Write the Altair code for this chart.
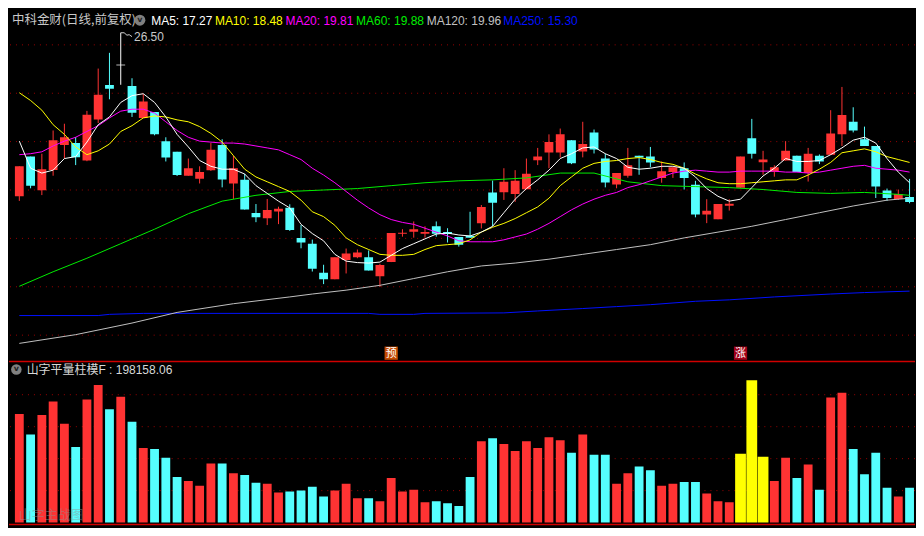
import altair as alt
import pandas as pd
import numpy as np

# ---------------- data ----------------
opens = [19.74, 21.38, 19.99, 20.83, 21.86, 21.94, 21.22, 22.91, 24.34, 25.17,
         24.30, 22.98, 23.22, 22.02, 21.58, 20.59, 20.47, 20.82, 21.86, 20.27,
         20.42, 19.05, 18.83, 19.11, 19.27, 18.02, 17.78, 16.58, 16.31, 17.11,
         17.22, 17.22, 16.43, 17.02, 18.19, 18.27, 18.19, 18.50, 18.26, 18.06,
         18.11, 18.63, 19.90, 19.91, 19.83, 20.03, 21.23, 21.55, 21.55, 22.06,
         21.59, 22.38, 21.30, 20.23, 20.59, 21.42, 21.38, 20.50, 20.74, 20.90,
         20.22, 18.99, 18.79, 19.35, 20.09, 22.14, 21.15, 20.75, 21.22, 21.42,
         20.70, 21.42, 21.46, 22.30, 22.82, 22.10, 21.82, 19.98, 19.63, 19.71]
closes = [20.98, 20.18, 20.86, 22.06, 22.18, 21.35, 23.11, 23.94, 24.19, 25.17,
          23.19, 23.66, 22.30, 21.34, 20.62, 20.90, 20.74, 21.66, 20.43, 20.90,
          19.19, 18.87, 19.17, 19.22, 18.35, 17.83, 16.75, 16.31, 17.22, 17.38,
          17.42, 16.67, 16.90, 18.22, 18.23, 18.38, 18.26, 18.19, 18.18, 17.74,
          18.03, 19.30, 19.47, 20.34, 20.38, 20.67, 21.38, 21.98, 22.30, 21.11,
          21.90, 21.67, 20.31, 20.70, 21.02, 21.34, 21.14, 20.78, 20.94, 20.50,
          18.99, 19.14, 19.42, 19.43, 21.38, 21.50, 21.26, 20.94, 21.62, 20.74,
          21.50, 21.18, 22.34, 23.10, 22.46, 21.82, 20.15, 19.67, 19.83, 19.50]
highs = [20.98, 21.38, 21.50, 22.46, 22.74, 22.19, 23.27, 25.02, 25.67, 26.50,
         24.62, 23.97, 23.22, 22.18, 21.58, 21.30, 20.98, 21.95, 22.10, 21.42,
         20.67, 19.42, 19.63, 19.31, 19.41, 18.55, 17.95, 16.91, 17.22, 17.58,
         17.54, 17.50, 16.95, 18.22, 18.38, 18.70, 18.50, 18.70, 18.42, 18.06,
         19.10, 19.38, 20.39, 20.90, 20.82, 21.30, 21.74, 22.30, 22.54, 22.06,
         22.82, 22.50, 21.50, 20.70, 21.74, 21.42, 21.78, 21.18, 20.94, 21.14,
         20.38, 19.62, 19.42, 19.62, 21.38, 22.94, 21.62, 21.02, 22.02, 21.42,
         21.74, 21.47, 23.30, 24.26, 23.42, 22.62, 21.82, 20.06, 20.02, 20.46]
lows = [19.55, 20.07, 19.79, 20.59, 21.30, 21.03, 21.19, 22.77, 23.75, 24.35,
        23.02, 22.98, 22.26, 21.18, 20.58, 20.59, 20.27, 20.79, 20.11, 19.63,
        19.19, 18.67, 18.55, 18.59, 18.31, 17.59, 16.63, 16.11, 16.31, 16.55,
        17.18, 16.67, 15.99, 17.02, 18.07, 18.03, 18.03, 18.07, 17.83, 17.66,
        18.03, 18.41, 18.50, 19.59, 19.51, 20.03, 21.03, 20.90, 21.34, 21.07,
        21.35, 21.51, 20.11, 20.07, 20.51, 20.63, 20.94, 20.30, 20.50, 20.02,
        18.87, 18.63, 18.79, 19.15, 20.09, 21.30, 20.63, 20.55, 21.22, 20.74,
        20.35, 21.07, 21.46, 21.82, 22.38, 21.82, 19.67, 19.55, 19.59, 19.45]
volumes = [616000, 500500, 610500, 687500, 561000, 429000, 698500, 781000, 643500, 715000,
           572000, 423500, 418000, 368500, 258500, 236500, 209000, 335500, 335500, 280500,
           269500, 225500, 220000, 170500, 176000, 181500, 203500, 148500, 181500, 220000,
           137500, 137500, 121000, 253000, 176000, 187000, 115500, 121000, 110000, 93500,
           258500, 462000, 478500, 445500, 407000, 462000, 423500, 484000, 467500, 396000,
           500500, 385000, 385000, 220000, 280500, 319000, 297000, 209000, 220000, 231000,
           231000, 165000, 121000, 115500, 390500, 808500, 374000, 236500, 368500, 253000,
           330000, 187000, 709500, 737000, 418000, 275000, 396000, 198000, 148500, 198158.06]

ma5 = [22.02, 20.90, 20.70, 20.82, 21.30, 21.38, 21.98, 22.70, 23.02, 23.62,
       23.90, 23.98, 23.62, 23.02, 22.30, 21.78, 21.22, 20.98, 20.86, 20.86,
       20.66, 20.18, 19.86, 19.54, 19.26, 18.58, 18.20, 17.90, 17.34, 17.06,
       17.00, 16.98, 17.02, 17.30, 17.58, 17.78, 17.98, 18.18, 18.22, 18.14,
       18.10, 18.26, 18.50, 19.06, 19.62, 20.06, 20.42, 20.82, 21.30, 21.50,
       21.74, 21.78, 21.50, 21.30, 20.94, 20.86, 20.90, 20.98, 20.98, 20.90,
       20.54, 20.06, 19.74, 19.54, 19.62, 20.10, 20.58, 20.90, 21.30, 21.18,
       21.18, 21.22, 21.46, 21.74, 22.06, 22.18, 21.94, 21.30, 20.74, 20.30]
ma10 = [24.02, 23.70, 23.30, 22.70, 22.30, 21.78, 21.46, 21.62, 21.90, 22.42,
        22.66, 22.98, 23.06, 23.02, 22.90, 22.82, 22.62, 22.34, 21.98, 21.42,
        20.86, 20.54, 20.34, 20.14, 19.94, 19.58, 19.10, 18.90, 18.54, 18.02,
        17.74, 17.54, 17.34, 17.30, 17.30, 17.34, 17.54, 17.70, 17.74, 17.78,
        17.94, 18.26, 18.46, 18.62, 18.82, 19.06, 19.30, 19.66, 20.18, 20.54,
        20.90, 21.10, 21.18, 21.22, 21.30, 21.34, 21.26, 21.14, 21.06, 20.90,
        20.66, 20.46, 20.30, 20.26, 20.26, 20.30, 20.34, 20.38, 20.42, 20.42,
        20.62, 20.86, 21.14, 21.54, 21.62, 21.70, 21.58, 21.38, 21.26, 21.14]
ma20 = [21.46, 21.50, 21.58, 21.82, 22.02, 22.18, 22.42, 22.66, 22.98, 23.26,
        23.34, 23.34, 23.18, 22.82, 22.46, 22.18, 22.02, 21.98, 21.94, 21.94,
        21.90, 21.82, 21.74, 21.66, 21.46, 21.26, 20.90, 20.62, 20.30, 19.94,
        19.58, 19.26, 18.98, 18.78, 18.66, 18.58, 18.42, 18.26, 18.10, 17.90,
        17.86, 17.86, 17.86, 17.94, 18.06, 18.18, 18.38, 18.62, 18.90, 19.18,
        19.42, 19.62, 19.78, 19.90, 20.10, 20.22, 20.38, 20.54, 20.70, 20.78,
        20.82, 20.78, 20.74, 20.74, 20.78, 20.78, 20.78, 20.78, 20.74, 20.74,
        20.70, 20.74, 20.82, 20.90, 20.98, 21.02, 20.90, 20.86, 20.82, 20.74]
ma60_idx = [0, 3, 6, 9, 12, 15, 18, 21, 24, 27, 30, 33, 36, 39, 42, 45, 48, 51,
            54, 57, 60, 63, 66, 69, 72, 75, 78, 79]
ma60 = [16.02, 16.62, 17.18, 17.78, 18.38, 19.02, 19.54, 19.78, 19.94, 20.00,
        20.06, 20.18, 20.30, 20.38, 20.42, 20.50, 20.70, 20.70, 20.34, 20.18,
        20.14, 20.10, 20.02, 19.90, 19.86, 19.90, 19.82, 19.78]
ma120_idx = [0, 5, 10, 14, 19, 24, 26, 29, 32, 35, 38, 41, 44, 47, 50, 53, 56,
             59, 62, 65, 68, 71, 74, 77, 79]
ma120 = [13.66, 14.02, 14.50, 14.94, 15.30, 15.58, 15.70, 15.86, 16.06, 16.34,
         16.62, 16.86, 16.98, 17.14, 17.34, 17.54, 17.74, 18.02, 18.26, 18.50,
         18.78, 19.06, 19.34, 19.58, 19.66]
ma250_idx = [0, 7, 8, 11, 31, 32, 35, 36, 43, 46, 50, 53, 56, 60, 63, 67, 72, 75, 79]
ma250 = [14.81, 14.81, 14.86, 14.90, 14.90, 14.86, 14.86, 14.90, 14.92, 15.00,
         15.10, 15.18, 15.26, 15.40, 15.46, 15.58, 15.70, 15.76, 15.82]

signal_idx = [64, 65, 66]          # highlighted (yellow) volume bars
marker_idx = [33, 64]
marker_text = ["预", "涨"]
price_grid = [14, 16, 18, 20, 22, 24, 26]
vol_grid = [181500, 363000, 544500, 726000]

header_main = "中科金财(日线,前复权)"
ma_labels = ["MA5: 17.27", "MA10: 18.48", "MA20: 19.81", "MA60: 19.88",
             "MA120: 19.96", "MA250: 15.30"]
vol_title = "山字平量柱模F : 198158.06"
watermark = "山字主战图"

# ---------------- styling / layout ----------------
W, H1, H2 = 908, 353, 167
SX, SY = W / 924, (H1 + H2) / 536
RED, CYAN, WHITE, YELLOW = "#ff3333", "#55ffff", "#ffffff", "#ffff00"
MA_COLORS = ["#ffffff", "#ffff00", "#ff00ff", "#00ee00", "#c0c0c0", "#0010ff"]
GRID = "#9a0000"
SEP = "#d00000"
FONT = "Liberation Sans, Noto Sans CJK SC"
CJK = "Noto Sans CJK SC"

X_DOM = [-0.473, 79.04]
P_DOM = [12.94, 27.5]
V_DOM = [-27500, 918500]

xsc = alt.Scale(domain=X_DOM, nice=False, zero=False)
psc = alt.Scale(domain=P_DOM, nice=False, zero=False)
vsc = alt.Scale(domain=V_DOM, nice=False, zero=False)

df = pd.DataFrame({"i": np.arange(len(opens)), "o": opens, "h": highs,
                   "l": lows, "c": closes, "vol": volumes})
df["col"] = np.where(df.c > df.o, RED, np.where(df.c < df.o, CYAN, WHITE))
df["vcol"] = np.where(df.c >= df.o, RED, CYAN)
df["sig"] = df.i.isin(signal_idx)

X = alt.X("i:Q", scale=xsc, axis=None)

def one(t):
    return pd.DataFrame({"t": [t]})

# ---------------- price panel ----------------
grid = alt.Chart(pd.DataFrame({"p": price_grid})).mark_rule(
    color=GRID, strokeDash=[1, 5], strokeWidth=1
).encode(y=alt.Y("p:Q", scale=psc, axis=None))

wicks = alt.Chart(df).mark_rule(strokeWidth=1, clip=True).encode(
    x=X, y=alt.Y("l:Q", scale=psc, axis=None), y2="h:Q",
    color=alt.Color("col:N", scale=None))

bodies = alt.Chart(df).mark_bar(size=9 * SX, orient="vertical", clip=True).encode(
    x=X, y=alt.Y("o:Q", scale=psc, axis=None), y2="c:Q",
    color=alt.Color("col:N", scale=None))

doji = alt.Chart(df).transform_filter("datum.o == datum.c").mark_tick(
    orient="horizontal", size=9 * SX, thickness=1, clip=True
).encode(x=X, y=alt.Y("c:Q", scale=psc, axis=None),
         color=alt.Color("col:N", scale=None))

def ma_line(idx, vals, color):
    d = pd.DataFrame({"i": idx, "v": vals})
    return alt.Chart(d).mark_line(color=color, strokeWidth=1, clip=True).encode(
        x=X, y=alt.Y("v:Q", scale=psc, axis=None))

lines = [
    ma_line(list(range(len(ma250))) if False else ma250_idx, ma250, MA_COLORS[5]),
    ma_line(ma120_idx, ma120, MA_COLORS[4]),
    ma_line(ma60_idx, ma60, MA_COLORS[3]),
    ma_line(list(range(len(ma20))), ma20, MA_COLORS[2]),
    ma_line(list(range(len(ma10))), ma10, MA_COLORS[1]),
    ma_line(list(range(len(ma5))), ma5, MA_COLORS[0]),
]

# high label
hi_row = df.loc[df.h.idxmax()]
lead = pd.DataFrame({"i": [hi_row.i, hi_row.i + 0.3, hi_row.i + 0.55, hi_row.i + 0.75, hi_row.i + 1.0],
                     "v": [hi_row.h, hi_row.h, hi_row.h - 0.1, hi_row.h - 0.08, hi_row.h - 0.16]})
leader = alt.Chart(lead).mark_line(color="#d0d0d0", strokeWidth=1).encode(
    x=X, y=alt.Y("v:Q", scale=psc, axis=None))
hi_label = alt.Chart(pd.DataFrame({"i": [hi_row.i], "h": [hi_row.h],
                                   "t": [f"{hi_row.h:.2f}"]})).mark_text(
    align="left", baseline="middle", dx=13.5 * SX, dy=4.5 * SY,
    font=FONT, fontSize=12, color="#c8c8c8"
).encode(x=X, y=alt.Y("h:Q", scale=psc, axis=None), text="t:N")

# signal markers
mk = pd.DataFrame({"i": marker_idx, "t": marker_text, "bg": ["#c44a00", "#a00018"]})
mk_box = alt.Chart(mk).mark_square(size=(13.5 * SX) ** 2, opacity=1).encode(
    x=X, y=alt.value(356 * SY), color=alt.Color("bg:N", scale=None))
mk_txt = alt.Chart(mk).mark_text(font=CJK, fontSize=11, color="#ffffff",
                                 baseline="middle", align="center").encode(
    x=X, y=alt.value(356.5 * SY), text="t:N")

# header
hdr = [alt.Chart(one(header_main)).mark_text(
    align="left", baseline="middle", font=CJK, fontSize=12.5, color="#c8c8c8"
).encode(text="t:N", x=alt.value(3 * SX), y=alt.value(12 * SY))]
hdr.append(alt.Chart(one("")).mark_circle(size=120, color="#808080", opacity=1).encode(
    x=alt.value(133.5 * SX), y=alt.value(12 * SY)))
hdr.append(alt.Chart(one("v")).mark_text(
    align="center", baseline="middle", font="DejaVu Sans", fontSize=8,
    fontWeight="bold", color="#202020").encode(
    text="t:N", x=alt.value(133.5 * SX), y=alt.value(11.5 * SY)))
label_x = [145, 210, 282, 354, 426, 504]
for lab, lx, colr in zip(ma_labels, label_x, MA_COLORS):
    hdr.append(alt.Chart(one(lab)).mark_text(
        align="left", baseline="middle", font=FONT, fontSize=12, color=colr
    ).encode(text="t:N", x=alt.value(lx * SX), y=alt.value(13 * SY)))

top = alt.layer(grid, wicks, bodies, doji, *lines, leader, hi_label,
                mk_box, mk_txt, *hdr).properties(width=W, height=H1)

# ---------------- volume panel ----------------
vgrid = alt.Chart(pd.DataFrame({"v": vol_grid})).mark_rule(
    color=GRID, strokeDash=[1, 5], strokeWidth=1
).encode(y=alt.Y("v:Q", scale=vsc, axis=None))

vbars = alt.Chart(df).transform_filter("!datum.sig").mark_bar(
    size=9 * SX, orient="vertical", clip=True
).encode(x=X, y=alt.Y("vol:Q", scale=vsc, axis=None), y2=alt.datum(0),
         color=alt.Color("vcol:N", scale=None))
sbars = alt.Chart(df).transform_filter("datum.sig").mark_bar(
    size=11 * SX, orient="vertical", clip=True, color=YELLOW
).encode(x=X, y=alt.Y("vol:Q", scale=vsc, axis=None), y2=alt.datum(0))

sep_top = alt.Chart(one("")).mark_rule(color=SEP, strokeWidth=1.5).encode(
    x=alt.value(0), x2=alt.value(W), y=alt.value(0.75))
sep_bot = alt.Chart(one("")).mark_rule(color=SEP, strokeWidth=1.5).encode(
    x=alt.value(0), x2=alt.value(W), y=alt.value((533 - 364) * SY))

v_icon = alt.Chart(one("")).mark_circle(size=110, color="#808080", opacity=1).encode(
    x=alt.value(7.5 * SX), y=alt.value((373 - 364) * SY))
v_icon_t = alt.Chart(one("v")).mark_text(
    align="center", baseline="middle", font="DejaVu Sans", fontSize=8,
    fontWeight="bold", color="#202020").encode(
    text="t:N", x=alt.value(7.5 * SX), y=alt.value((372.5 - 364) * SY))
v_title = alt.Chart(one(vol_title)).mark_text(
    align="left", baseline="middle", font=FONT, fontSize=12, color="#d8d8d8"
).encode(text="t:N", x=alt.value(18 * SX), y=alt.value((373.5 - 364) * SY))
wm = alt.Chart(one(watermark)).mark_text(
    align="left", baseline="middle", font=CJK, fontSize=13, color="#909090",
    opacity=0.45).encode(text="t:N", x=alt.value(10 * SX), y=alt.value((523 - 364) * SY))

bottom = alt.layer(vgrid, vbars, sbars, sep_top, sep_bot, wm,
                   v_icon, v_icon_t, v_title).properties(width=W, height=H2)

chart = alt.vconcat(top, bottom, spacing=0).properties(
    background="#000000", padding=0
).configure_view(stroke=None).configure_concat(spacing=0)

chart.save("out.html", embed_options={"renderer": "svg", "actions": False})
